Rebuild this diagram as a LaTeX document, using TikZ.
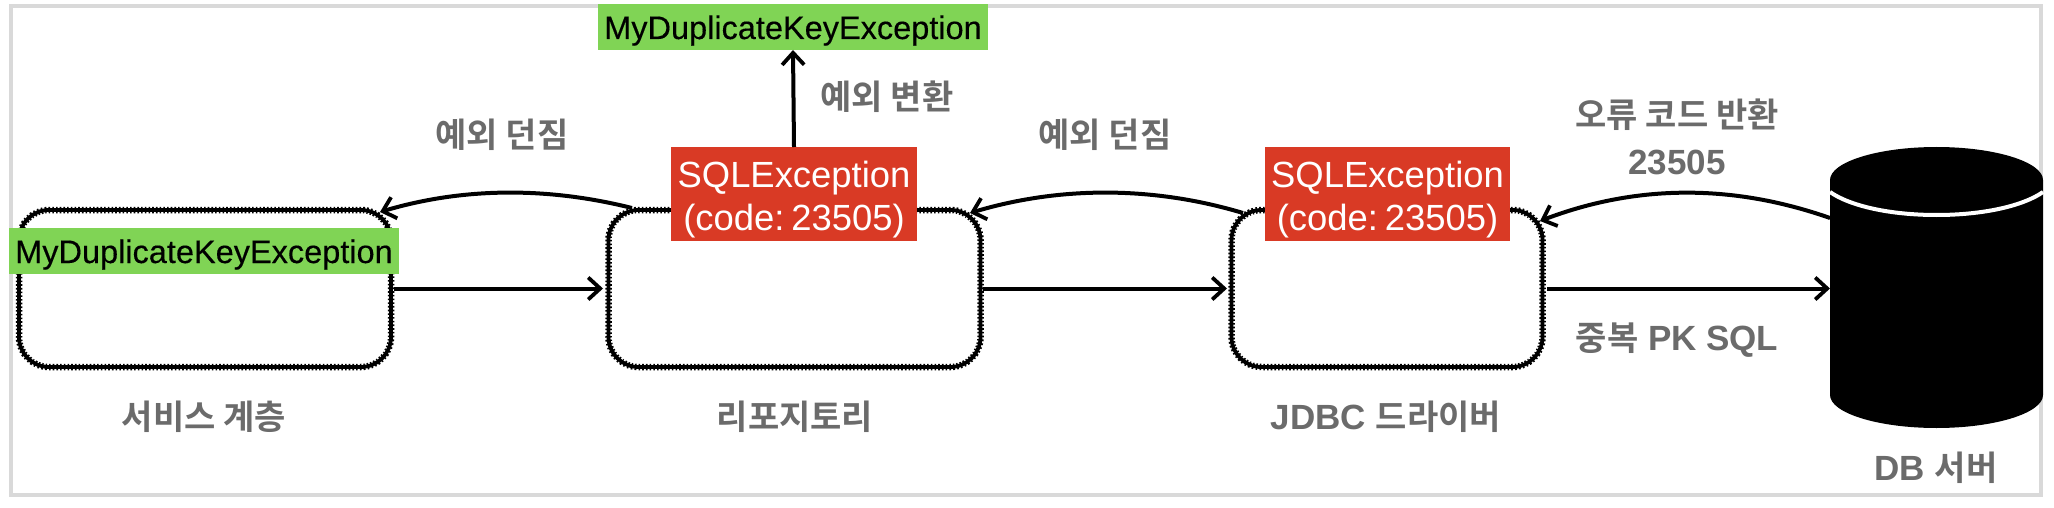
\documentclass[tikz,border=0pt]{standalone}
\usepackage{fontspec}
\setmainfont{Liberation Sans}
\newfontfamily\kr{Noto Sans CJK KR}[BoldFont={Noto Sans CJK KR Bold}]
\usetikzlibrary{arrows.meta}
\definecolor{frameg}{HTML}{D9D9D9}
\definecolor{tagred}{HTML}{D93A25}
\definecolor{taggreen}{HTML}{80D455}
\definecolor{labelg}{HTML}{6B6B6B}
\newcommand{\hg}[1]{{\kr\fontsize{34}{47}\selectfont #1}}
\newcommand{\sqltext}{\rule{0pt}{37pt}SQLException\\(code:\kern7pt 23505)}
\tikzset{
  x=1pt,y=-1pt,
  lay/.style={draw=black,line width=3.8pt,line join=round,rounded corners=30pt,inner sep=0pt,outer sep=0pt,
    postaction={draw=black,line width=6.5pt,dash pattern=on 1.6pt off 2.1pt}},
  tagg/.style={fill=taggreen,text=black,inner sep=0pt,outer sep=0pt,text height=35pt,text depth=11pt,
    font=\fontsize{32.5}{38}\selectfont\addfontfeature{FakeBold=0.3}},
  tagr/.style={fill=tagred,text=white,inner sep=0pt,outer sep=0pt,align=center,font=\fontsize{36.4}{43}\selectfont},
  lab/.style={text=labelg,align=center,inner sep=0pt,font=\fontsize{35}{47}\selectfont\bfseries},
  conn/.style={draw=black,line width=4pt,-{Straight Barb[length=12pt,width=22pt,line width=3.8pt]}},
}
\begin{document}
\begin{tikzpicture}
\useasboundingbox (0,0) rectangle (2054,508);
\fill[white] (0,0) rectangle (2054,508);
\draw[frameg,line width=4pt] (11,6) rectangle (2041,495);
% layer boxes
\node[lay,minimum width=372pt,minimum height=157pt] (svc) at (205,288.5) {};
\node[lay,minimum width=372pt,minimum height=157pt] (repo) at (794.5,288.5) {};
\node[lay,minimum width=311pt,minimum height=157pt] (jdbc) at (1387,288.5) {};
% DB cylinder
\node[minimum width=213pt,minimum height=279pt,inner sep=0pt,outer sep=0pt] (db) at (1936.5,288.5) {};
\fill[black] (1830,180) .. controls (1830,162) and (1878,147) .. (1936.5,147)
  .. controls (1995,147) and (2043,162) .. (2043,180)
  -- (2043,395) .. controls (2043,413) and (1995,428) .. (1936.5,428)
  .. controls (1878,428) and (1830,413) .. (1830,395) -- cycle;
\draw[white,line width=4pt] (1830,192) .. controls (1850,206) and (1890,215) .. (1936.5,215)
  .. controls (1983,215) and (2023,206) .. (2043,192);
% curve ends
\coordinate (c1s) at (632,208); \coordinate (c1e) at (380,212);
\coordinate (c2s) at (1243,213); \coordinate (c2e) at (970,213);
\coordinate (c3s) at (1830,218); \coordinate (c3e) at (1540,221);
\draw[conn,shorten <=3pt,shorten >=5.5pt] (svc.east) -- (repo.west);
\draw[conn,shorten <=2pt,shorten >=4.5pt] (repo.east) -- (jdbc.west);
\draw[conn,shorten <=4.5pt] (jdbc.east) -- (db.west);
\draw[conn] (c1s) .. controls (548,187) and (464,187) .. (c1e);
\draw[conn] (c2s) .. controls (1153,186) and (1060,186) .. (c2e);
\draw[conn] (c3s) .. controls (1733,184) and (1637,184) .. (c3e);
% tags
\node[tagg,minimum width=390pt,minimum height=46pt] (gsvc) at (204,251) {MyDuplicateKeyException};
\node[tagg,minimum width=390pt,minimum height=46pt] (gtop) at (793,27) {MyDuplicateKeyException};
\node[tagr,minimum width=246pt,minimum height=94pt] (r1) at (794,194) {\sqltext};
\node[tagr,minimum width=245pt,minimum height=94pt] (r2) at (1387.5,194) {\sqltext};
\draw[conn] (r1.north) -- (gtop.south);
% labels
\node[lab] (l1) at (502,135) {\hg{예외 던짐}};
\node[lab] (l2) at (1105,135) {\hg{예외 던짐}};
\node[lab] (l3) at (887,97) {\hg{예외 변환}};
\node[lab] (l4) at (1677,137) {\hg{오류 코드 반환}\\23505};
\node[lab] (l5) at (1677,340) {\hg{중복} PK SQL};
\node[lab] (l6) at (204,417) {\hg{서비스 계층}};
\node[lab] (l7) at (795,417) {\hg{리포지토리}};
\node[lab] (l8) at (1386,417) {JDBC \hg{드라이버}};
\node[lab] (l9) at (1936,468) {DB \hg{서버}};
\end{tikzpicture}
\end{document}
